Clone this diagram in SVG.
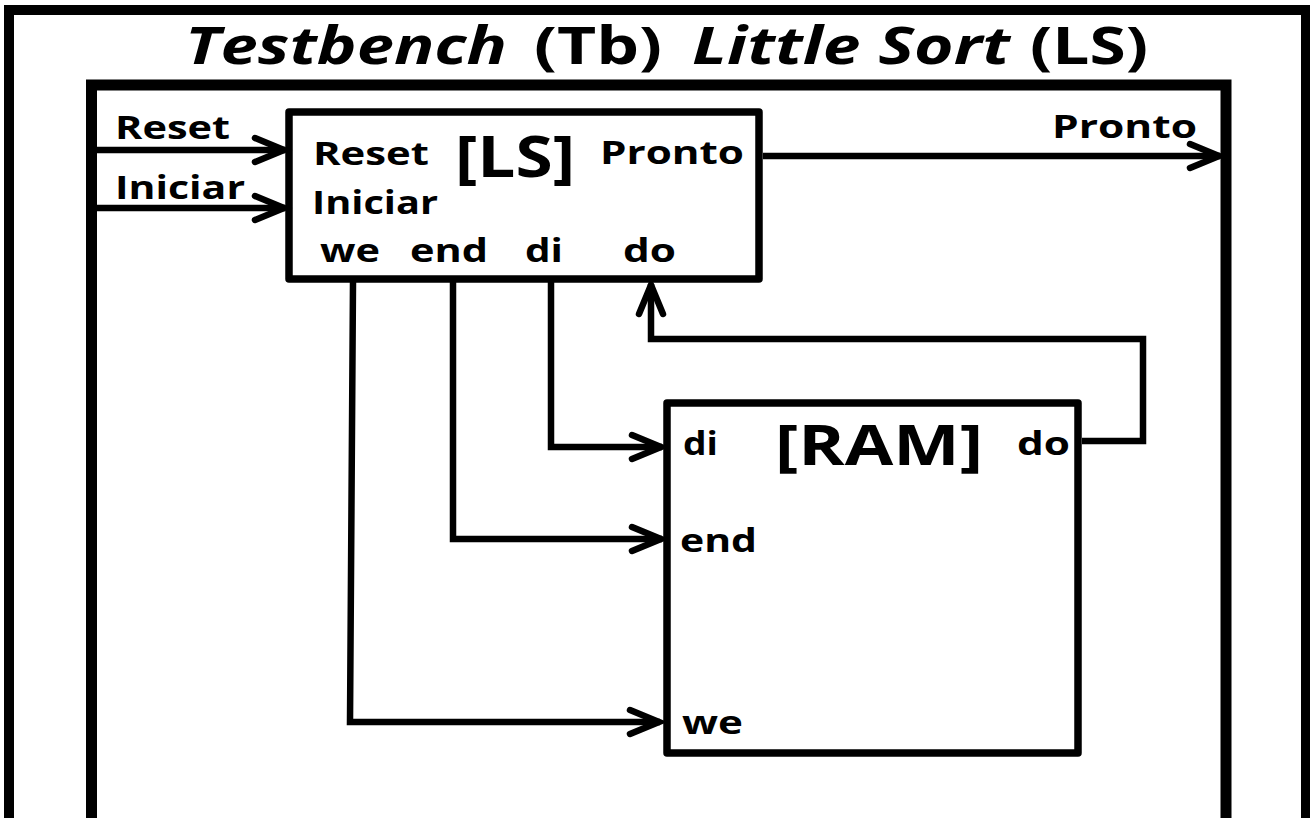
<svg xmlns="http://www.w3.org/2000/svg" width="1310" height="818" viewBox="0 0 1310 818">
  <style>
    .lbl { font-family: "Open Sans", "Liberation Sans", sans-serif; font-weight: 700; font-size: 33px; fill: #000; }
    .ttl { font-family: "Open Sans", "Liberation Sans", sans-serif; font-weight: 700; font-size: 52px; fill: #000; }
    .it { font-style: italic; }
    .big { font-family: "Open Sans", "Liberation Sans", sans-serif; font-weight: 700; fill: #000; }
    .box { fill: #fff; stroke: #000; stroke-width: 7.5; stroke-linejoin: round; }
    .wire { fill: none; stroke: #000; stroke-width: 6.5; stroke-linejoin: miter; }
  </style>
  <defs>
    <marker id="arrow" markerUnits="userSpaceOnUse" viewBox="-40 -20 50 40" markerWidth="50" markerHeight="40" refX="0" refY="0" orient="auto">
      <path d="M-30,-12 L-1,0 L-30,12" fill="none" stroke="#000" stroke-width="6.5" stroke-linecap="round" stroke-linejoin="miter"/>
    </marker>
  </defs>

  <rect x="0" y="0" width="1310" height="818" fill="#fff"/>

  <!-- testbench frame -->
  <g id="frame-tb">
    <rect x="9" y="10" width="1297" height="840" fill="none" stroke="#000" stroke-width="10"/>
    <text class="ttl it" x="185" y="64" textLength="322" lengthAdjust="spacingAndGlyphs">Testbench</text>
    <text class="ttl" x="534" y="64" textLength="128" lengthAdjust="spacingAndGlyphs">(Tb)</text>
    <text class="ttl it" x="692" y="64" textLength="318" lengthAdjust="spacingAndGlyphs">Little Sort</text>
    <text class="ttl" x="1030" y="64" textLength="118" lengthAdjust="spacingAndGlyphs">(LS)</text>
  </g>

  <!-- inner boundary with external ports -->
  <g id="frame-inner">
    <rect x="91.5" y="85" width="1134.5" height="800" fill="none" stroke="#000" stroke-width="11"/>
    <text class="lbl" x="115" y="139" textLength="115" lengthAdjust="spacingAndGlyphs">Reset</text>
    <text class="lbl" x="115" y="199" textLength="130" lengthAdjust="spacingAndGlyphs">Iniciar</text>
    <text class="lbl" x="1052" y="138" textLength="145" lengthAdjust="spacingAndGlyphs">Pronto</text>
  </g>

  <!-- Little Sort block -->
  <g id="node-ls">
    <rect class="box" x="289" y="112" width="470" height="167"/>
    <text class="lbl" x="313" y="165" textLength="116" lengthAdjust="spacingAndGlyphs">Reset</text>
    <text class="big" x="455" y="177" font-size="58" textLength="120" lengthAdjust="spacingAndGlyphs">[LS]</text>
    <text class="lbl" x="600" y="164" textLength="144" lengthAdjust="spacingAndGlyphs">Pronto</text>
    <text class="lbl" x="312" y="214" textLength="126" lengthAdjust="spacingAndGlyphs">Iniciar</text>
    <text class="lbl" x="320" y="262" textLength="60" lengthAdjust="spacingAndGlyphs">we</text>
    <text class="lbl" x="410" y="262" textLength="78" lengthAdjust="spacingAndGlyphs">end</text>
    <text class="lbl" x="525" y="262" textLength="38" lengthAdjust="spacingAndGlyphs">di</text>
    <text class="lbl" x="623" y="262" textLength="53" lengthAdjust="spacingAndGlyphs">do</text>
  </g>

  <!-- memory block -->
  <g id="node-ram">
    <rect class="box" x="667" y="403" width="411" height="350"/>
    <text class="lbl" x="683" y="455" textLength="35" lengthAdjust="spacingAndGlyphs">di</text>
    <text class="big" x="775" y="465" font-size="55" textLength="208" lengthAdjust="spacingAndGlyphs">[RAM]</text>
    <text class="lbl" x="1017" y="455" textLength="53" lengthAdjust="spacingAndGlyphs">do</text>
    <text class="lbl" x="680" y="552" textLength="77" lengthAdjust="spacingAndGlyphs">end</text>
    <text class="lbl" x="682" y="734" textLength="61" lengthAdjust="spacingAndGlyphs">we</text>
  </g>

  <!-- connectors -->
  <g id="connectors">
    <path class="wire" d="M97,150 H285" marker-end="url(#arrow)"/>
    <path class="wire" d="M97,208 H285" marker-end="url(#arrow)"/>
    <path class="wire" d="M763,156 H1220" marker-end="url(#arrow)"/>
    <path class="wire" d="M353,282 L350,722 H660" marker-end="url(#arrow)"/>
    <path class="wire" d="M453,282 V539 H662" marker-end="url(#arrow)"/>
    <path class="wire" d="M551,282 V447 H662" marker-end="url(#arrow)"/>
    <path class="wire" d="M1082,441 H1143 V339 H651 V284" marker-end="url(#arrow)"/>
  </g>
</svg>
